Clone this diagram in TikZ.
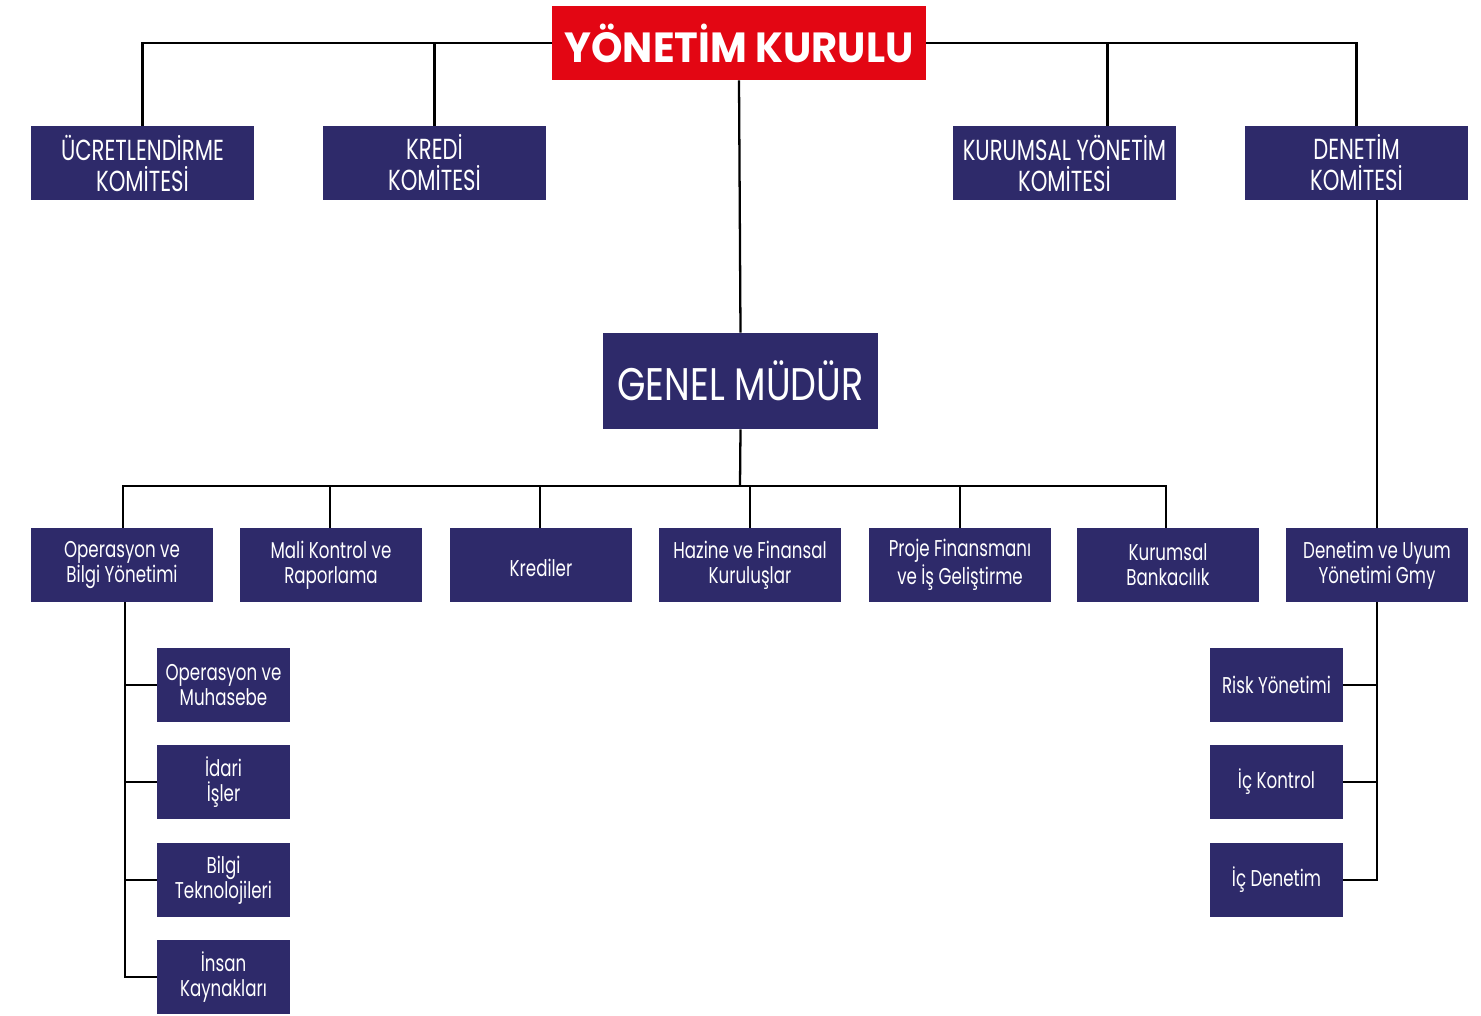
\documentclass[tikz,border=0pt]{standalone}
\usepackage{fontspec}
\setmainfont{Poppins}[FakeStretch=0.73]
\newfontfamily\topfont{Poppins}[FakeStretch=0.95]
\newfontfamily\gmfont{Poppins}[FakeStretch=0.8]
\definecolor{navy}{HTML}{2E2A6A}
\definecolor{kred}{HTML}{E30613}
\tikzset{
  base/.style={fill=navy, text=white, inner sep=0pt, align=center},
  topbox/.style={base, fill=kred, minimum width=7.48cm, minimum height=1.48cm, font=\topfont\bfseries\fontsize{24}{26}\selectfont},
  kombox/.style={base, minimum width=4.46cm, minimum height=1.48cm, font=\fontsize{16.5}{17.6}\selectfont},
  gmbox/.style={base, minimum width=5.5cm, minimum height=1.92cm, font=\gmfont\fontsize{26}{28}\selectfont},
  unitbox/.style={base, minimum width=3.64cm, minimum height=1.48cm, font=\fontsize{13}{14.2}\selectfont, execute at begin node={\rule{0pt}{13.5pt}}},
  subbox/.style={base, minimum width=2.66cm, minimum height=1.48cm, font=\fontsize{13}{14.2}\selectfont},
  conn/.style={draw=black, line width=1.3pt},
}
\begin{document}
\begin{tikzpicture}[x=0.02cm, y=-0.02cm]
\useasboundingbox (0,0) rectangle (1481,1015);
% top
\node[topbox] (yk) at (739,43) {YÖNETİM KURULU};
\node[kombox] (ucret) at (142.5,163) {ÜCRETLENDİRME\\KOMİTESİ};
\node[kombox] (kredi) at (434.5,163) {KREDİ\\KOMİTESİ};
\node[kombox] (kurum) at (1064.5,163) {KURUMSAL YÖNETİM\\KOMİTESİ};
\node[kombox] (denet) at (1356.5,163) {DENETİM\\KOMİTESİ};
\node[gmbox] (gm) at (740.5,381) {GENEL MÜDÜR};
% units
\node[unitbox] (op) at (122,565) {Operasyon ve\\Bilgi Yönetimi};
\node[unitbox] (mali) at (331,565) {Mali Kontrol ve\\Raporlama};
\node[unitbox] (kred) at (541,565) {Krediler};
\node[unitbox] (haz) at (750,565) {Hazine ve Finansal\\Kuruluşlar};
\node[unitbox] (proj) at (960,565) {Proje Finansmanı\\ve İş Geliştirme};
\node[unitbox] (kb) at (1168,565) {Kurumsal\\Bankacılık};
\node[unitbox] (duy) at (1377,565) {Denetim ve Uyum\\Yönetimi Gmy};
% left subs
\node[subbox] (s1) at (223.5,685) {Operasyon ve\\Muhasebe};
\node[subbox] (s2) at (223.5,782) {İdari\\İşler};
\node[subbox] (s3) at (223.5,880) {Bilgi\\Teknolojileri};
\node[subbox] (s4) at (223.5,977) {İnsan\\Kaynakları};
% right subs
\node[subbox] (r1) at (1276.5,685) {Risk Yönetimi};
\node[subbox] (r2) at (1276.5,782) {İç Kontrol};
\node[subbox] (r3) at (1276.5,880) {İç Denetim};
% connectors
\coordinate (bar) at (740,486);
\draw[conn] (yk.west) -| (ucret.north);
\draw[conn] (yk.west) -| (kredi.north);
\draw[conn] (yk.east) -| ([xshift=0.86cm]kurum.north);
\draw[conn] (yk.east) -| (denet.north);
\draw[conn] (yk.south) -- (gm.north);
\draw[conn] (gm.south) -- (bar);
\draw[conn] (bar) -| ([xshift=0.02cm]op.north);
\draw[conn] (bar) -| ([xshift=-0.02cm]mali.north);
\draw[conn] (bar) -| ([xshift=-0.02cm]kred.north);
\draw[conn] (bar) -| (haz.north);
\draw[conn] (bar) -| (proj.north);
\draw[conn] (bar) -| ([xshift=-0.04cm]kb.north);
\draw[conn] (duy.north) -- (duy.north |- denet.south);
\draw[conn] ([xshift=0.06cm]op.south) |- (s1.west);
\draw[conn] ([xshift=0.06cm]op.south) |- (s2.west);
\draw[conn] ([xshift=0.06cm]op.south) |- (s3.west);
\draw[conn] ([xshift=0.06cm]op.south) |- (s4.west);
\draw[conn] (duy.south) |- (r1.east);
\draw[conn] (duy.south) |- (r2.east);
\draw[conn] (duy.south) |- (r3.east);
\end{tikzpicture}
\end{document}
